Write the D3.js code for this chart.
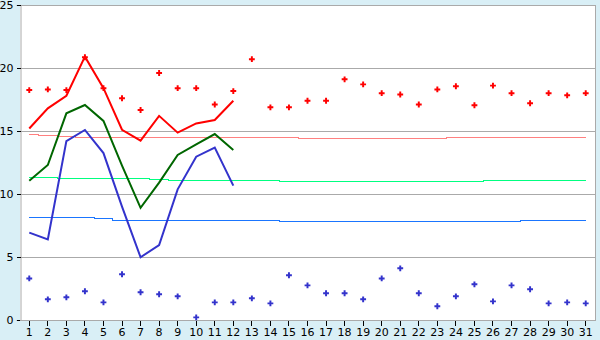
<!DOCTYPE html>
<html>
<head>
<meta charset="utf-8">
<script src="https://cdn.jsdelivr.net/npm/d3@7"></script>
<style>
  html, body { margin: 0; padding: 0; background: #d9eff6; }
  svg { display: block; }
  text { font-family: "DejaVu Sans", Verdana, sans-serif; font-size: 11px; fill: #000; }
</style>
</head>
<body>
<svg id="chart" width="600" height="340"></svg>
<script>
const days = d3.range(1, 32);
const yTicks = [0, 5, 10, 15, 20, 25];

// daily observed extremes (markers)
const maxMarkers = [18.25, 18.3, 18.25, 20.85, 18.4, 17.6, 16.67, 19.6, 18.4, 18.4,
  17.1, 18.17, 20.7, 16.88, 16.88, 17.4, 17.4, 19.1, 18.7, 18.0,
  17.9, 17.1, 18.3, 18.55, 17.04, 18.6, 18.0, 17.2, 18.0, 17.83, 18.0];
const minMarkers = [3.3, 1.64, 1.8, 2.28, 1.4, 3.63, 2.2, 2.04, 1.88, 0.21,
  1.4, 1.4, 1.72, 1.32, 3.55, 2.75, 2.12, 2.12, 1.64, 3.3,
  4.1, 2.12, 1.09, 1.88, 2.83, 1.48, 2.75, 2.44, 1.32, 1.4, 1.32];

// current month lines (days 1-12)
const maxLine = [15.2, 16.8, 17.8, 20.9, 18.4, 15.1, 14.23, 16.2, 14.87, 15.6, 15.87, 17.4];
const meanLine = [11.06, 12.3, 16.4, 17.06, 15.8, 12.25, 8.9, 10.9, 13.1, 13.94, 14.76, 13.5];
const minLine = [6.93, 6.4, 14.2, 15.08, 13.25, 9.0, 4.98, 5.95, 10.37, 12.96, 13.68, 10.66];

// normals (nearly flat lines)
const normMax = [14.74, 14.7, 14.62, 14.55, 14.5, 14.5, 14.5, 14.5, 14.5, 14.5,
  14.5, 14.5, 14.5, 14.5, 14.5, 14.42, 14.42, 14.42, 14.42, 14.42,
  14.42, 14.42, 14.42, 14.5, 14.5, 14.5, 14.5, 14.5, 14.5, 14.5, 14.5];
const normMean = [11.33, 11.33, 11.25, 11.25, 11.25, 11.25, 11.25, 11.17, 11.09, 11.09,
  11.09, 11.09, 11.09, 11.09, 11.0, 11.0, 11.0, 11.0, 11.0, 11.0,
  11.0, 11.0, 11.0, 11.0, 11.0, 11.09, 11.09, 11.09, 11.09, 11.09, 11.09];
const normMin = [8.15, 8.15, 8.15, 8.15, 8.07, 7.96, 7.96, 7.96, 7.96, 7.96,
  7.96, 7.96, 7.96, 7.96, 7.86, 7.86, 7.86, 7.86, 7.86, 7.86,
  7.86, 7.86, 7.86, 7.86, 7.86, 7.86, 7.86, 7.94, 7.94, 7.94, 7.94];

const svg = d3.select("#chart");
const mLeft = 20, mRight = 595, mTop = 5, mBottom = 320;

const x = d3.scaleBand().domain(days).range([mLeft, mRight]);
const xc = d => x(d) + x.bandwidth() / 2;
const y = d3.scaleLinear().domain([0, 25]).range([mBottom, mTop]);

// plot background
svg.append("rect").attr("x", mLeft).attr("y", mTop)
  .attr("width", mRight - mLeft).attr("height", mBottom - mTop).attr("fill", "#fff");

// gridlines
svg.append("g").selectAll("line").data(yTicks.slice(1)).join("line")
  .attr("x1", mLeft).attr("x2", mRight)
  .attr("y1", d => Math.round(y(d)) + 0.5).attr("y2", d => Math.round(y(d)) + 0.5)
  .attr("stroke", "#aaaaaa").attr("shape-rendering", "crispEdges");
// right border
svg.append("line").attr("x1", mRight + 0.5).attr("x2", mRight + 0.5)
  .attr("y1", mTop).attr("y2", mBottom).attr("stroke", "#aaaaaa")
  .attr("shape-rendering", "crispEdges");

// y axis
const yAxis = d3.axisLeft(y).tickValues(yTicks).tickSize(4).tickPadding(3);
const gy = svg.append("g").attr("transform", `translate(${mLeft + 0.5},0)`).call(yAxis);
gy.select(".domain").attr("stroke", "#aaaaaa");
gy.selectAll(".tick line").attr("stroke", "#000");
gy.selectAll("text").style("font-family", "DejaVu Sans").style("font-size", "11px");

// x axis
const xAxis = d3.axisBottom(x).tickSize(5).tickPadding(3);
const gx = svg.append("g").attr("transform", `translate(0,${mBottom + 0.5})`).call(xAxis);
gx.select(".domain").attr("stroke", "#aaaaaa").attr("d", `M${mLeft},0H${mRight + 1}`);
gx.selectAll(".tick line").attr("stroke", "#000");
gx.selectAll("text").style("font-family", "DejaVu Sans").style("font-size", "11px");

svg.selectAll(".tick line").attr("shape-rendering", "crispEdges");

// normal lines (pixel-snapped steps)
const flat = d3.line().curve(d3.curveStep)
  .x((d, i) => xc(days[i])).y(d => Math.round(y(d)) + 0.5);
[[normMax, "#ff8080"], [normMean, "#00ff80"], [normMin, "#1a75ff"]].forEach(([data, c]) => {
  svg.append("path").datum(data).attr("d", flat).attr("fill", "none")
    .attr("stroke", c).attr("stroke-width", 1).attr("shape-rendering", "crispEdges");
});

// current lines
const line = d3.line().x((d, i) => xc(days[i])).y(d => y(d));
[[maxLine, "#ff0000"], [meanLine, "#006600"], [minLine, "#3333cc"]].forEach(([data, c]) => {
  svg.append("path").datum(data).attr("d", line).attr("fill", "none")
    .attr("stroke", c).attr("stroke-width", 2).attr("stroke-linejoin", "miter");
});

// markers
const sym = d3.symbol().type(d3.symbolCross).size(19);
svg.append("g").selectAll("path").data(maxMarkers).join("path")
  .attr("d", sym).attr("fill", "#ff0000")
  .attr("transform", (d, i) => `translate(${xc(days[i])},${y(d)})`);
svg.append("g").selectAll("path").data(minMarkers).join("path")
  .attr("d", sym).attr("fill", "#3333cc")
  .attr("transform", (d, i) => `translate(${xc(days[i])},${y(d)})`);
</script>
</body>
</html>
